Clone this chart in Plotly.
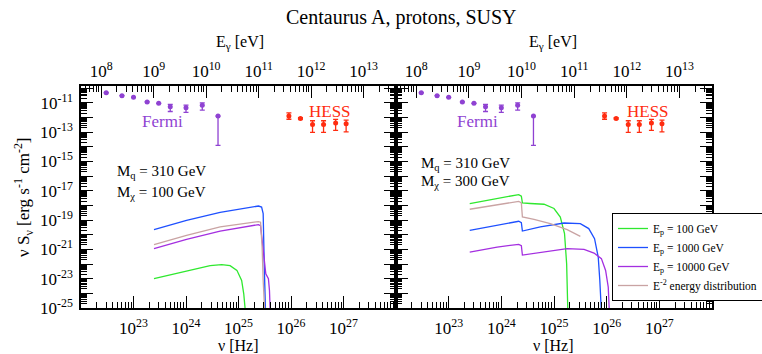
import numpy as np
import plotly.graph_objects as go

LOG_H_EV = -14.3835  # log10(h / eV s): converts nu [Hz] to E_gamma [eV]

# ---------------- data (log10 values) ----------------
fermi_lognu = [22.48, 22.78, 23.00, 23.26, 23.48, 23.70, 24.00, 24.31, 24.61]
fermi_logS = [-10.31, -10.51, -10.62, -10.94, -11.03, -11.27, -11.33, -11.17, -11.90]
fermi_err_up = [0, 0, 0, 0, 0, 0.17, 0.17, 0.17, 0]
fermi_err_dn = [0, 0, 0, 0, 0, 0.32, 0.32, 0.32, 2.0]

hess_lognu = [25.96, 26.18, 26.41, 26.62, 26.85, 27.05]
hess_logS = [-11.90, -12.06, -12.47, -12.47, -12.38, -12.43]
hess_err_up = [0.22, 0.05, 0.25, 0.25, 0.25, 0.25]
hess_err_dn = [0.22, 0.05, 0.55, 0.55, 0.50, 0.55]

# left panel (M_chi = 100 GeV)
l_green_lognu = [23.39, 24.01, 24.46, 24.68, 24.84, 24.97, 25.06, 25.10, 25.13, 25.15]
l_green_logS = [-23.00, -22.48, -22.11, -22.04, -22.11, -22.43, -23.12, -24.03, -24.83, -26.0]
l_blue_lognu = [23.39, 24.01, 24.65, 25.38, 25.44, 25.47, 25.49, 25.51, 25.52]
l_blue_logS = [-19.65, -19.02, -18.47, -18.04, -18.11, -18.56, -21.98, -24.83, -26.0]
l_purple_lognu = [23.39, 24.01, 24.65, 25.38, 25.42, 25.48, 25.52, 25.57, 25.59, 25.60, 25.61]
l_purple_logS = [-20.95, -20.31, -19.75, -19.31, -19.38, -21.53, -22.66, -23.00, -23.80, -24.83, -26.0]
l_brown_lognu = [23.39, 24.01, 24.65, 25.38, 25.42, 25.45, 25.47, 25.50, 25.51]
l_brown_logS = [-20.68, -20.04, -19.47, -19.10, -19.14, -20.84, -23.12, -24.83, -26.0]

# right panel (M_chi = 300 GeV)
r_green_lognu = [23.40, 23.92, 24.33, 24.38, 24.40, 24.55, 24.81, 25.00, 25.12, 25.20, 25.24, 25.26, 25.27]
r_green_logS = [-17.87, -17.53, -17.26, -17.37, -17.83, -17.87, -17.92, -18.21, -18.79, -19.92, -21.98, -24.83, -26.0]
r_blue_lognu = [23.40, 23.92, 24.33, 24.38, 24.40, 24.74, 25.19, 25.50, 25.66, 25.77, 25.84, 25.87, 25.90, 25.91]
r_blue_logS = [-19.70, -19.36, -19.08, -19.17, -19.75, -19.47, -19.20, -19.24, -19.58, -20.27, -21.53, -23.12, -24.83, -26.0]
r_purple_lognu = [23.40, 23.92, 24.33, 24.38, 24.40, 24.81, 25.25, 25.57, 25.76, 25.90, 25.98, 26.03, 26.05, 26.06]
r_purple_logS = [-21.18, -20.84, -20.66, -20.75, -21.39, -21.18, -20.95, -21.00, -21.25, -21.63, -22.44, -23.58, -24.83, -26.0]
r_brown_lognu = [23.40, 23.92, 24.33, 24.38, 24.40, 24.62, 24.93, 25.25, 25.50]
r_brown_logS = [-18.26, -17.94, -17.72, -17.83, -18.79, -18.95, -19.24, -19.65, -20.11]

legend_names = ["E<sub>p</sub> = 100 GeV", "E<sub>p</sub> = 1000 GeV",
                "E<sub>p</sub> = 10000 GeV", "E<sup>-2</sup> energy distribution"]
mq_text = "M<sub>q</sub> = 310 GeV"
mchi_left = "M<sub>χ</sub> = 100 GeV"
mchi_right = "M<sub>χ</sub> = 300 GeV"

nu_ticks = [22, 23, 24, 25, 26, 27, 28]
e_ticks = [7, 8, 9, 10, 11, 12, 13, 14]
s_ticks = list(range(-25, -9))

# ---------------- styles ----------------
FONT = "Liberation Serif"
C_GREEN = "#2fe82f"
C_BLUE = "#1e50ff"
C_PURPLE = "#a42fe0"
C_BROWN = "#c9a3a3"
C_FERMI = "#8f42d2"
C_HESS = "#ff2c10"


def lin(v):
    return [10.0 ** a for a in v]


fig = go.Figure()

left_curves = [(l_green_lognu, l_green_logS, C_GREEN), (l_blue_lognu, l_blue_logS, C_BLUE),
               (l_purple_lognu, l_purple_logS, C_PURPLE), (l_brown_lognu, l_brown_logS, C_BROWN)]
right_curves = [(r_green_lognu, r_green_logS, C_GREEN), (r_blue_lognu, r_blue_logS, C_BLUE),
                (r_purple_lognu, r_purple_logS, C_PURPLE), (r_brown_lognu, r_brown_logS, C_BROWN)]

for (xa, ya, curves, show) in [("x", "y", left_curves, False), ("x2", "y2", right_curves, True)]:
    for i, ((lx, ly, col), name) in enumerate(zip(curves, legend_names)):
        fig.add_trace(go.Scatter(x=lin(lx), y=lin(ly), mode="lines", name=name,
                                 line=dict(color=col, width=1.3), showlegend=show,
                                 legendgroup="g%d" % i, xaxis=xa, yaxis=ya))


def err(vals, up, dn):
    return dict(type="data", symmetric=False,
                array=[10 ** (s + u) - 10 ** s for s, u in zip(vals, up)],
                arrayminus=[10 ** s - 10 ** (s - d) for s, d in zip(vals, dn)],
                thickness=1.3, width=2.5)


for xa, ya in [("x", "y"), ("x2", "y2")]:
    e = err(fermi_logS, fermi_err_up, fermi_err_dn)
    e["color"] = C_FERMI
    fig.add_trace(go.Scatter(x=lin(fermi_lognu), y=lin(fermi_logS), mode="markers",
                             marker=dict(color=C_FERMI, size=5), error_y=e,
                             showlegend=False, xaxis=xa, yaxis=ya))
    e = err(hess_logS, hess_err_up, hess_err_dn)
    e["color"] = C_HESS
    fig.add_trace(go.Scatter(x=lin(hess_lognu), y=lin(hess_logS), mode="markers",
                             marker=dict(color=C_HESS, size=5), error_y=e,
                             showlegend=False, xaxis=xa, yaxis=ya))

# ---------------- axes ----------------
W, H = 762, 354
ML, MR, MT, MB = 81, 50, 86, 46
PW = W - ML - MR
PH = H - MT - MB
d = 315 / PW


def minor_vals(lo, hi):
    return [k * 10.0 ** e for e in range(lo, hi) for k in range(2, 10)]


def sup(e):
    return "10<sup>%d</sup>" % e


tickfont = dict(family=FONT, size=17, color="black")
base = dict(type="log", showline=True, linecolor="black", linewidth=1.5, ticks="inside",
            ticklen=12, tickwidth=1.2, tickcolor="black", showgrid=False, zeroline=False,
            tickfont=tickfont)

xb_text = [sup(e) if 23 <= e <= 27 else "" for e in nu_ticks]
xminor = dict(ticks="inside", ticklen=6, tickwidth=1, tickcolor="black",
              tickvals=minor_vals(22, 28), showgrid=False)
xt_text = [sup(e) for e in e_ticks]
xtminor = dict(ticks="inside", ticklen=6, tickwidth=1, tickcolor="black",
               tickvals=minor_vals(7, 14), showgrid=False)
y_text = [sup(e) if e % 2 != 0 else "" for e in s_ticks]
yminor = dict(ticks="inside", ticklen=6, tickwidth=1, tickcolor="black",
              tickvals=minor_vals(-25, -9), showgrid=False)

xrange_ = [22, 28]
trange_ = [22 + LOG_H_EV, 28 + LOG_H_EV]
yrange_ = [-25, -9.85]

fig.update_layout(
    xaxis=dict(base, domain=[0, d], anchor="y", range=xrange_, tickvals=[10.0 ** e for e in nu_ticks],
               ticktext=xb_text, minor=xminor, ticklabelstandoff=4),
    xaxis2=dict(base, domain=[d, 1], anchor="y2", range=xrange_, tickvals=[10.0 ** e for e in nu_ticks],
                ticktext=xb_text, minor=xminor, ticklabelstandoff=4),
    xaxis3=dict(base, overlaying="x", side="top", anchor="y", range=trange_,
                tickvals=[10.0 ** e for e in e_ticks], ticktext=xt_text, minor=xtminor),
    xaxis4=dict(base, overlaying="x2", side="top", anchor="y2", range=trange_,
                tickvals=[10.0 ** e for e in e_ticks], ticktext=xt_text, minor=xtminor),
    yaxis=dict(base, domain=[0, 1], anchor="x", range=yrange_, mirror="ticks",
               tickvals=[10.0 ** e for e in s_ticks], ticktext=y_text, minor=yminor,
               ticklabelstandoff=3),
    yaxis2=dict(base, domain=[0, 1], anchor="x2", range=yrange_, mirror="ticks",
                tickvals=[10.0 ** e for e in s_ticks], showticklabels=False, minor=yminor),
)

# dummy invisible traces so the top axes are drawn
for xa, ya in [("x3", "y"), ("x4", "y2")]:
    fig.add_trace(go.Scatter(x=[1e9], y=[1e-30], mode="markers", marker=dict(opacity=0),
                             showlegend=False, hoverinfo="skip", xaxis=xa, yaxis=ya))


def px_x(px):
    return (px - ML) / PW


def px_y(py):
    return (H - MB - py) / PH


ann = []
txt = dict(family=FONT, size=16, color="black")


def paper_ann(text, px, py, font, **kw):
    return dict(text=text, x=px_x(px), y=px_y(py), xref="paper", yref="paper",
                xanchor="center", yanchor="middle", showarrow=False, font=font, **kw)


ann.append(paper_ann("Centaurus A, protons, SUSY", 401, 17, dict(family=FONT, size=20, color="black")))
for cx in (240, 553):
    ann.append(paper_ann("E<sub>γ</sub> [eV]", cx, 43, txt))
for cx in (238, 553):
    ann.append(paper_ann("ν [Hz]", cx, 345, txt))
ann.append(paper_ann("ν S<sub>ν</sub> [erg s<sup>-1</sup> cm<sup>-2</sup>]", 23, 197,
                     dict(family=FONT, size=17, color="black"), textangle=-90))

lab = dict(family=FONT, size=17)
m_font = dict(family=FONT, size=15, color="black")
ann += [
    dict(text="Fermi", x=23.56, y=-12.30, xref="x", yref="y", showarrow=False, font=dict(lab, color=C_FERMI)),
    dict(text="HESS", x=26.74, y=-11.61, xref="x", yref="y", showarrow=False, font=dict(lab, color=C_HESS)),
    dict(text="Fermi", x=23.54, y=-12.30, xref="x2", yref="y2", showarrow=False, font=dict(lab, color=C_FERMI)),
    dict(text="HESS", x=26.78, y=-11.58, xref="x2", yref="y2", showarrow=False, font=dict(lab, color=C_HESS)),
    dict(text=mq_text, x=22.65, y=-15.75, xref="x", yref="y", xanchor="left", yanchor="middle",
         showarrow=False, font=m_font),
    dict(text=mchi_left, x=22.65, y=-17.15, xref="x", yref="y", xanchor="left", yanchor="middle",
         showarrow=False, font=m_font),
    dict(text=mq_text, x=22.44, y=-15.20, xref="x2", yref="y2", xanchor="left", yanchor="middle",
         showarrow=False, font=m_font),
    dict(text=mchi_right, x=22.44, y=-16.40, xref="x2", yref="y2", xanchor="left", yanchor="middle",
         showarrow=False, font=m_font),
]

fig.update_layout(
    width=W, height=H,
    margin=dict(l=ML, r=MR, t=MT, b=MB, autoexpand=False),
    paper_bgcolor="white", plot_bgcolor="white",
    font=dict(family=FONT, color="black"),
    annotations=ann,
    showlegend=True,
    legend=dict(x=px_x(612), y=px_y(213), xanchor="left", yanchor="top", bgcolor="white",
                bordercolor="black", borderwidth=1, font=dict(family=FONT, size=11.5, color="black"),
                tracegroupgap=0, itemwidth=30),
)

fig.write_html("out.html", config={"displayModeBar": False},
               post_script="document.body.style.margin='0';document.body.style.overflow='hidden';")
